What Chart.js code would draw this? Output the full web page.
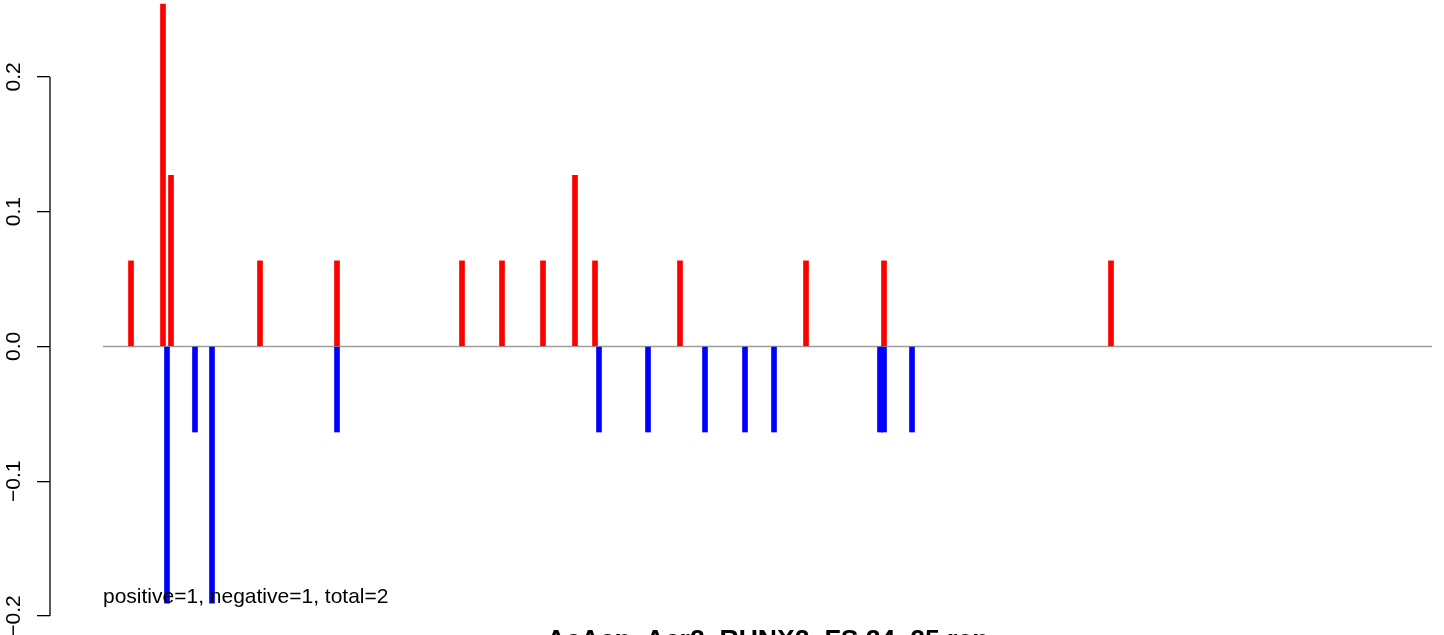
<!DOCTYPE html>
<html lang="en">
<head>
<meta charset="UTF-8">
<title>AcAcp_Acr2_RUNX2_FS 24_25.rep</title>
<script src="https://cdn.jsdelivr.net/npm/chart.js"></script>
<style>
  html, body { margin: 0; padding: 0; background: #fff; }
  #wrap { width: 1444px; height: 635px; position: relative; }
</style>
</head>
<body>
<div id="wrap"><canvas id="chart"></canvas></div>
<script>
// positions along the sequence
const posPositions = [28, 60, 68, 157, 234, 359, 399, 440, 472, 492, 577, 703, 781, 1008];
const posValues    = [0.0635, 0.254, 0.127, 0.0635, 0.0635, 0.0635, 0.0635, 0.0635, 0.127, 0.0635, 0.0635, 0.0635, 0.0635, 0.0635];
const negPositions = [64, 92, 109, 234, 496, 545, 602, 642, 671, 777, 781, 809];
const negValues    = [-0.1905, -0.0635, -0.1905, -0.0635, -0.0635, -0.0635, -0.0635, -0.0635, -0.0635, -0.0635, -0.0635, -0.0635];
const baselineRange = [0, 1329];
const yTicks = [-0.2, -0.1, 0, 0.1, 0.2];
const titleText = 'AcAcp_Acr2_RUNX2_FS 24_25.rep';
const noteText = 'positive=1, negative=1, total=2';

const FONT = '"Liberation Sans", Arial, Helvetica, sans-serif';

const toPoints = (xs, ys) => xs.map((x, i) => ({ x: x, y: ys[i] }));

// R-style y axis line only between the outer ticks, plus texts
const extras = {
  id: 'extras',
  afterDraw(chart) {
    const ctx = chart.ctx;
    const y = chart.scales.y;
    ctx.save();
    ctx.strokeStyle = '#000';
    ctx.lineWidth = 1.3;
    ctx.beginPath();
    ctx.moveTo(y.right, y.getPixelForValue(yTicks[yTicks.length - 1]));
    ctx.lineTo(y.right, y.getPixelForValue(yTicks[0]));
    ctx.stroke();

    ctx.fillStyle = '#000';
    ctx.textBaseline = 'alphabetic';
    ctx.textAlign = 'left';
    ctx.font = '21px ' + FONT;
    ctx.fillText(noteText, chart.scales.x.getPixelForValue(baselineRange[0]), 603);

    // main title sits below the canvas edge, only its top shows
    ctx.textAlign = 'center';
    ctx.font = 'bold 26.6px ' + FONT;
    const cx = (chart.scales.x.getPixelForValue(baselineRange[0]) + chart.scales.x.getPixelForValue(baselineRange[1])) / 2;
    ctx.fillText(titleText, cx, 648);
    ctx.restore();
  }
};

new Chart(document.getElementById('chart'), {
  type: 'bar',
  data: {
    datasets: [
      {
        type: 'line',
        data: toPoints(baselineRange, [0, 0]),
        borderColor: '#9c9c9c',
        borderWidth: 1.5,
        pointRadius: 0,
        order: 3
      },
      {
        data: toPoints(posPositions, posValues),
        backgroundColor: '#ff0000',
        barThickness: 5,
        grouped: false,
        clip: false,
        order: 1
      },
      {
        data: toPoints(negPositions, negValues),
        backgroundColor: '#0000ff',
        barThickness: 5,
        grouped: false,
        clip: false,
        order: 2
      }
    ]
  },
  options: {
    responsive: true,
    maintainAspectRatio: false,
    animation: false,
    layout: { padding: 0 },
    plugins: {
      legend: { display: false },
      title: { display: false },
      tooltip: { enabled: false }
    },
    scales: {
      x: {
        type: 'linear',
        display: false,
        offset: false,
        min: -53,
        max: 1341
      },
      y: {
        // chart area runs ~3px to ~632px, so this puts 0.2 and -0.2 where R had them
        min: -0.21264,
        max: 0.25559,
        afterFit: s => { s.width = 50; },
        afterBuildTicks: s => { s.ticks = yTicks.map(v => ({ value: v })); },
        border: { display: false },
        grid: {
          drawOnChartArea: false,
          drawTicks: true,
          tickLength: 13,
          color: '#000',
          lineWidth: 1.3
        },
        ticks: {
          autoSkip: false,
          minRotation: 90,
          maxRotation: 90,
          crossAlign: 'center',
          padding: 2,
          color: '#000',
          // tiny line height so the rotated labels don't pad the chart area
          font: { family: FONT, size: 21, lineHeight: 0.001 },
          callback: v => (v < 0 ? '\u2212' : '') + Math.abs(v).toFixed(1)
        }
      }
    }
  },
  plugins: [extras]
});
</script>
</body>
</html>
